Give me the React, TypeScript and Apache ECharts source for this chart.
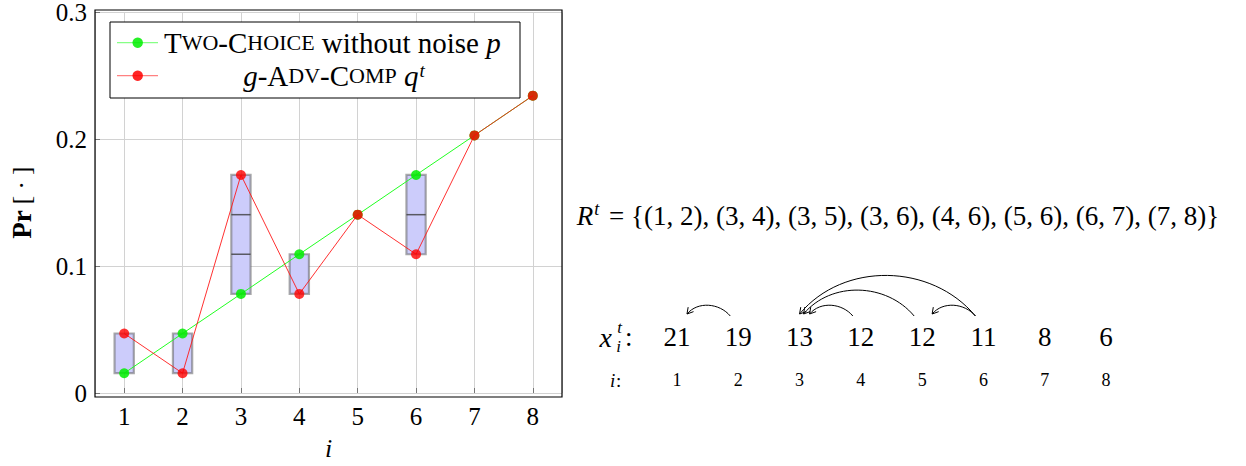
import React, { useEffect, useRef } from "react";
import * as echarts from "echarts";

// ---------- data ----------
const indices = [1, 2, 3, 4, 5, 6, 7, 8];
const pValues = [0.0156, 0.0469, 0.0781, 0.1094, 0.1406, 0.1719, 0.2031, 0.2344];
const qValues = [0.0469, 0.0156, 0.1719, 0.0781, 0.1406, 0.1094, 0.2031, 0.2344];
const boxIndex = [1, 2, 3, 4, 6];
const boxLow = [0.0156, 0.0156, 0.0781, 0.0781, 0.1094];
const boxHigh = [0.0469, 0.0469, 0.1719, 0.1094, 0.1719];
const boxMids: number[][] = [[], [], [0.1094, 0.1406], [], [0.1406]];
const loads = [21, 19, 13, 12, 12, 11, 8, 6];
const rPairs = [[1, 2], [3, 4], [3, 5], [3, 6], [4, 6], [5, 6], [6, 7], [7, 8]];
const arrows = [[2, 1], [4, 3], [5, 3], [6, 3], [6, 5]]; // [from, to]

const SERIES_P = "Two-Choice without noise p";
const SERIES_Q = "g-Adv-Comp q^t";

// ---------- style ----------
const FONT = "Liberation Serif";
const BOX_W = 0.33;
const f = (size: number, italic = false, bold = false) =>
  `${italic ? "italic " : ""}${bold ? "bold " : ""}${size}px "Liberation Serif", serif`;

const GREEN_LINE = "#22ff22";
const GREEN_DOT = "#00ee00";
const RED_LINE = "#ff1a1a";
const RED_DOT = "#ff0000";

const LH = 30;
const tok = (size: number, italic = false) => ({
  font: f(size, italic),
  fontFamily: FONT,
  fontSize: size,
  fontStyle: italic ? "italic" : "normal",
  lineHeight: LH,
  fill: "#000",
});
const legendRich: any = {
  n: tok(29),
  s: tok(22),
  i: tok(29, true),
  sup: { ...tok(19, true), verticalAlign: "top", padding: [0, 0, 12, 1] },
};
const legendTextP = "{n|T}{s|WO}{n|-C}{s|HOICE}{n| without noise }{i|p}";
const legendTextQ = "{i|g}{n|-A}{s|DV}{n|-C}{s|OMP}{n| }{i|q}{sup|t}";

const rText =
  "{R|R}{sup|t}{n| = }{n|{}{n|" +
  rPairs.map((p) => `(${p[0]}, ${p[1]})`).join(", ") +
  "}}";

function legendRow(y: number, lineColor: string, dotColor: string, text: string, tx: number, align: string) {
  return [
    {
      type: "line",
      z: 6,
      shape: { x1: 117, y1: y, x2: 158, y2: y },
      style: { stroke: lineColor, lineWidth: 1.2, opacity: 0.55 },
    },
    {
      type: "circle",
      z: 6,
      shape: { cx: 137.7, cy: y, r: 5.2 },
      style: { fill: dotColor, opacity: 0.85 },
    },
    {
      type: "text",
      z: 6,
      x: tx,
      y,
      style: {
        text,
        rich: legendRich,
        font: f(29),
        fill: "#000",
        align,
        textAlign: align,
        verticalAlign: "middle",
        textVerticalAlign: "middle",
      },
    },
  ];
}

export default function App() {
  const ref = useRef<HTMLDivElement>(null);

  useEffect(() => {
    const chart = echarts.init(ref.current!, null, { renderer: "svg" });

    const textAt = (text: string, x: number, y: number, size: number, italic = false) => ({
      type: "text",
      style: {
        text,
        x,
        y,
        font: f(size, italic),
        fontFamily: FONT,
        fontSize: size,
        fontStyle: italic ? "italic" : "normal",
        fill: "#000",
        align: "center",
        verticalAlign: "middle",
      },
    });

    const option: any = {
      animation: false,
      backgroundColor: "#ffffff",
      textStyle: { fontFamily: FONT },
      grid: [
        { left: 95, top: 10, width: 467, height: 387, containLabel: false },
        { left: 615.7, top: 337, width: 551.6, height: 43, containLabel: false },
      ],
      xAxis: [
        {
          type: "value",
          gridIndex: 0,
          min: 0.5,
          max: 8.5,
          splitNumber: 8,
          axisLine: { show: false },
          axisTick: { show: true, inside: true, length: 5, lineStyle: { color: "#777" } },
          axisLabel: {
            showMinLabel: false,
            showMaxLabel: false,
            color: "#000",
            fontSize: 25,
            fontFamily: FONT,
            margin: 11,
          },
          splitLine: { show: true, lineStyle: { color: "#d2d2d2", width: 1 } },
          name: "i",
          nameLocation: "middle",
          nameGap: 42,
          nameTextStyle: { fontFamily: FONT, fontSize: 26, fontStyle: "italic", color: "#000" },
        },
        { type: "value", gridIndex: 1, min: 0, max: 9, show: false },
      ],
      yAxis: [
        {
          type: "value",
          gridIndex: 0,
          min: 0,
          max: 0.3,
          interval: 0.1,
          axisLine: { show: false },
          axisTick: { show: true, inside: true, length: 5, lineStyle: { color: "#777" } },
          axisLabel: { color: "#000", fontSize: 25, fontFamily: FONT, margin: 8 },
          splitLine: { show: true, lineStyle: { color: "#d2d2d2", width: 1 } },
          name: "{b|Pr}{n| [ · ]}",
          nameLocation: "middle",
          nameRotate: 90,
          nameGap: 60,
          nameTextStyle: {
            rich: {
              b: { fontFamily: FONT, fontSize: 27, fontWeight: "bold", color: "#000" },
              n: { fontFamily: FONT, fontSize: 25, color: "#000" },
            },
          },
        },
        { type: "value", gridIndex: 1, min: 0, max: 1, show: false },
      ],
      graphic: [
        {
          type: "rect",
          z: 5,
          shape: { x: 110, y: 22, width: 410, height: 76 },
          style: { fill: "#fff", stroke: "#000", lineWidth: 1 },
        },
        ...legendRow(42.7, GREEN_LINE, GREEN_DOT, legendTextP, 164, "left"),
        ...legendRow(75.7, RED_LINE, RED_DOT, legendTextQ, 334, "center"),
        {
          type: "rect",
          z: 10,
          shape: { x: 95, y: 10, width: 467, height: 387 },
          style: { fill: "none", stroke: "#000", lineWidth: 1.2 },
        },
        {
          type: "text",
          z: 10,
          x: 898,
          y: 216,
          style: {
            text: rText,
            font: f(27),
            fill: "#000",
            align: "center",
            verticalAlign: "middle",
            textAlign: "center",
            textVerticalAlign: "middle",
            rich: {
              R: { ...tok(27, true), lineHeight: 32 },
              sup: { ...tok(18, true), lineHeight: 32, verticalAlign: "top", padding: [0, 3, 13, 1] },
              n: { ...tok(27), lineHeight: 32 },
            },
          },
        },
      ],
      series: [
        {
          type: "custom",
          name: "boxes",
          xAxisIndex: 0,
          yAxisIndex: 0,
          z: 2,
          data: boxIndex.map((x, k) => [x, boxLow[k], boxHigh[k], k]),
          renderItem: (params: any, api: any) => {
            const x = api.value(0);
            const lo = api.value(1);
            const hi = api.value(2);
            const k = api.value(3);
            const pLo = api.coord([x, lo]);
            const pHi = api.coord([x, hi]);
            const w = api.size([BOX_W, 0])[0];
            const children: any[] = [
              {
                type: "rect",
                shape: { x: pLo[0] - w / 2, y: pHi[1], width: w, height: pLo[1] - pHi[1] },
                style: { fill: "#ccccfb", stroke: "rgba(100,100,100,0.55)", lineWidth: 2.2 },
              },
            ];
            (boxMids[k] || []).forEach((m) => {
              const pm = api.coord([x, m]);
              children.push({
                type: "line",
                shape: { x1: pm[0] - w / 2, y1: pm[1], x2: pm[0] + w / 2, y2: pm[1] },
                style: { stroke: "rgba(60,60,60,0.8)", lineWidth: 1.5 },
              });
            });
            return { type: "group", children };
          },
        },
        {
          type: "line",
          name: SERIES_P,
          xAxisIndex: 0,
          yAxisIndex: 0,
          z: 3,
          data: indices.map((x, k) => [x, pValues[k]]),
          symbol: "circle",
          symbolSize: 10,
          itemStyle: { color: GREEN_DOT, opacity: 0.85 },
          lineStyle: { color: GREEN_LINE, width: 1 },
        },
        {
          type: "line",
          name: SERIES_Q,
          xAxisIndex: 0,
          yAxisIndex: 0,
          z: 4,
          data: indices.map((x, k) => [x, qValues[k]]),
          symbol: "circle",
          symbolSize: 10,
          itemStyle: { color: RED_DOT, opacity: 0.8 },
          lineStyle: { color: RED_LINE, width: 0.9 },
        },
        // right panel: loads row x_i^t
        {
          type: "custom",
          name: "loads",
          xAxisIndex: 1,
          yAxisIndex: 1,
          data: loads.map((v, k) => [k + 1, 1, v]),
          renderItem: (params: any, api: any) => {
            const p = api.coord([api.value(0), api.value(1)]);
            return textAt(String(api.value(2)), p[0], p[1], 27);
          },
        },
        // right panel: index row i
        {
          type: "custom",
          name: "idx",
          xAxisIndex: 1,
          yAxisIndex: 1,
          data: indices.map((v) => [v, 0]),
          renderItem: (params: any, api: any) => {
            const p = api.coord([api.value(0), api.value(1)]);
            return textAt(String(api.value(0)), p[0], p[1], 18);
          },
        },
        // right panel: row headers
        {
          type: "custom",
          name: "headers",
          xAxisIndex: 1,
          yAxisIndex: 1,
          data: [[0, 1, 0], [0, 0, 1]],
          renderItem: (params: any, api: any) => {
            const p = api.coord([api.value(0), api.value(1)]);
            if (api.value(2) === 1) {
              return {
                type: "group",
                children: [textAt("i", p[0] - 3, p[1], 19, true), textAt(":", p[0] + 3, p[1], 19)],
              };
            }
            return {
              type: "group",
              children: [
                textAt("x", p[0] - 10, p[1], 28, true),
                textAt("t", p[0] + 4, p[1] - 10, 17, true),
                textAt("i", p[0] + 3, p[1] + 9, 17, true),
                textAt(":", p[0] + 13, p[1], 27),
              ],
            };
          },
        },
        // right panel: arrows
        {
          type: "custom",
          name: "arrows",
          xAxisIndex: 1,
          yAxisIndex: 1,
          data: arrows.map((a) => [a[0], a[1]]),
          renderItem: (params: any, api: any) => {
            const from = api.value(0) as number;
            const to = api.value(1) as number;
            const d = Math.abs(from - to);
            const ps = api.coord([from, 1]);
            const pe = api.coord([to, 1]);
            const sx = ps[0] - 8;
            const sy = ps[1] - 21;
            const ex = pe[0] + (d === 1 ? 10 : d === 2 ? 4 : 0);
            const ey = pe[1] - 23;
            const L = sx - ex;
            const c1x = sx - 0.25 * L;
            const c1y = sy - 0.3 * L;
            const c2x = ex + 0.25 * L;
            const c2y = ey - 0.3 * L;
            let dx = ex - c2x;
            let dy = ey - c2y;
            const n = Math.hypot(dx, dy);
            dx /= n;
            dy /= n;
            const hl = 6;
            const hw = 3.5;
            const b1 = [ex - hl * dx - hw * dy, ey - hl * dy + hw * dx];
            const b2 = [ex - hl * dx + hw * dy, ey - hl * dy - hw * dx];
            return {
              type: "group",
              children: [
                {
                  type: "bezierCurve",
                  shape: { x1: sx, y1: sy, x2: ex, y2: ey, cpx1: c1x, cpy1: c1y, cpx2: c2x, cpy2: c2y },
                  style: { stroke: "#000", fill: null, lineWidth: 1 },
                },
                {
                  type: "polyline",
                  shape: { points: [b1, [ex, ey], b2] },
                  style: { stroke: "#000", fill: null, lineWidth: 1 },
                },
              ],
            };
          },
        },
      ],
    };

    chart.setOption(option);
    return () => chart.dispose();
  }, []);

  return (
    <div
      ref={ref}
      style={{ position: "fixed", left: 0, top: 0, width: 1246, height: 466, background: "#fff" }}
    />
  );
}
